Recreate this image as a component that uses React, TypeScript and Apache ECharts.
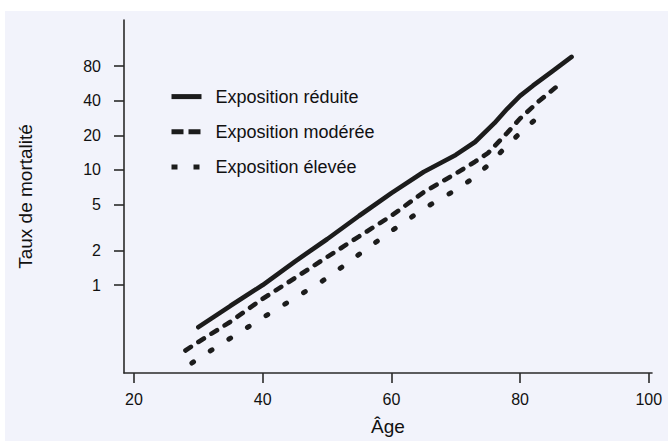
import React, { useEffect, useRef } from "react";
import * as echarts from "echarts";

const seriesNames = ["Exposition réduite", "Exposition modérée", "Exposition élevée"];

const lowAges = [30, 35, 40, 45, 50, 55, 60, 65, 70, 73, 76, 78, 80, 82, 85, 88];
const lowRates = [0.43, 0.66, 1.0, 1.6, 2.5, 4.0, 6.3, 9.6, 13.5, 17.5, 25.5, 34, 44, 54, 72, 96];

const midAges = [28, 30, 35, 40, 45, 50, 55, 60, 65, 70, 73, 75, 78, 80, 83, 85.5];
const midRates = [0.27, 0.32, 0.48, 0.76, 1.15, 1.75, 2.65, 4.0, 6.4, 9.3, 11.8, 14, 21, 28, 40, 52];

const highAges = [29, 30, 35, 40, 45, 50, 55, 60, 65, 70, 73, 75, 78, 80, 83];
const highRates = [0.21, 0.23, 0.345, 0.52, 0.77, 1.15, 1.85, 2.95, 4.6, 6.7, 8.7, 11, 16.3, 21, 29.5];

const xTicks = [20, 40, 60, 80, 100];
const yTicks = [1, 2, 5, 10, 20, 40, 80];
const xMin = 18.45;
const xMax = 100.5;
const yMin = 0.172;
const yMax = 201;

const FONT = "Liberation Sans, Arial, Helvetica, sans-serif";
const INK = "#1c1c1c";
const AXIS = "#2a2a2a";

function pairs(xs: number[], ys: number[]) {
  return xs.map((x, i) => [x, ys[i]]);
}

export default function App() {
  const ref = useRef<HTMLDivElement>(null);
  useEffect(() => {
    document.body.style.margin = "0";
    const chart = echarts.init(ref.current!, undefined, { renderer: "svg" });
    const lineStyles: any[] = [
      { color: INK, width: 4.6, type: "solid", cap: "round" },
      { color: INK, width: 4.6, type: [6.5, 9], cap: "round" },
      { color: INK, width: 5, type: [2, 20], cap: "round" },
    ];
    const legendStyles: any[] = [
      { color: INK, width: 5, type: "solid", cap: "butt" },
      { color: INK, width: 5, type: [12, 5], cap: "butt" },
      { color: INK, width: 5, type: [6, 16], cap: "butt" },
    ];
    const datas = [pairs(lowAges, lowRates), pairs(midAges, midRates), pairs(highAges, highRates)];
    chart.setOption({
      animation: false,
      backgroundColor: "#ffffff",
      graphic: [
        {
          type: "rect",
          z: -100,
          silent: true,
          shape: { x: 5, y: 11, width: 700, height: 450 },
          style: { fill: "#f2f3fb" },
        },
      ],
      grid: { left: 124, right: 16, top: 20, bottom: 68, containLabel: false },
      legend: {
        orient: "vertical",
        left: 164,
        top: 82,
        itemWidth: 30,
        itemHeight: 24,
        itemGap: 16,
        textStyle: { fontFamily: FONT, fontSize: 18, color: "#111", padding: [0, 0, 0, 9] },
        data: seriesNames.map((n, i) => ({
          name: n,
          lineStyle: legendStyles[i],
          itemStyle: { opacity: 0, color: "rgba(0,0,0,0)", borderWidth: 0 },
        })),
      },
      xAxis: {
        type: "value",
        min: xMin,
        max: xMax,
        name: "Âge",
        nameLocation: "middle",
        nameGap: 44,
        nameTextStyle: { fontFamily: FONT, fontSize: 19, color: "#111" },
        axisLine: { show: true, lineStyle: { color: AXIS, width: 1.6 } },
        axisTick: { show: true, length: 10, lineStyle: { color: AXIS, width: 1.6 }, customValues: xTicks },
        axisLabel: { fontFamily: FONT, fontSize: 16, color: "#111", margin: 18, customValues: xTicks },
        splitLine: { show: false },
      },
      yAxis: {
        type: "log",
        logBase: 10,
        min: yMin,
        max: yMax,
        name: "Taux de mortalité",
        nameLocation: "middle",
        nameGap: 89,
        nameTextStyle: { fontFamily: FONT, fontSize: 19, color: "#111" },
        axisLine: { show: true, lineStyle: { color: AXIS, width: 1.6 } },
        axisTick: { show: true, length: 10, lineStyle: { color: AXIS, width: 1.6 }, customValues: yTicks },
        axisLabel: { fontFamily: FONT, fontSize: 16, color: "#111", margin: 23, customValues: yTicks },
        splitLine: { show: false },
      },
      series: seriesNames.map((n, i) => ({
        name: n,
        type: "line",
        data: datas[i],
        showSymbol: false,
        symbol: "none",
        smooth: false,
        lineStyle: lineStyles[i],
        itemStyle: { color: INK },
      })),
    });
    return () => chart.dispose();
  }, []);
  return <div ref={ref} style={{ width: 668, height: 441 }} />;
}
